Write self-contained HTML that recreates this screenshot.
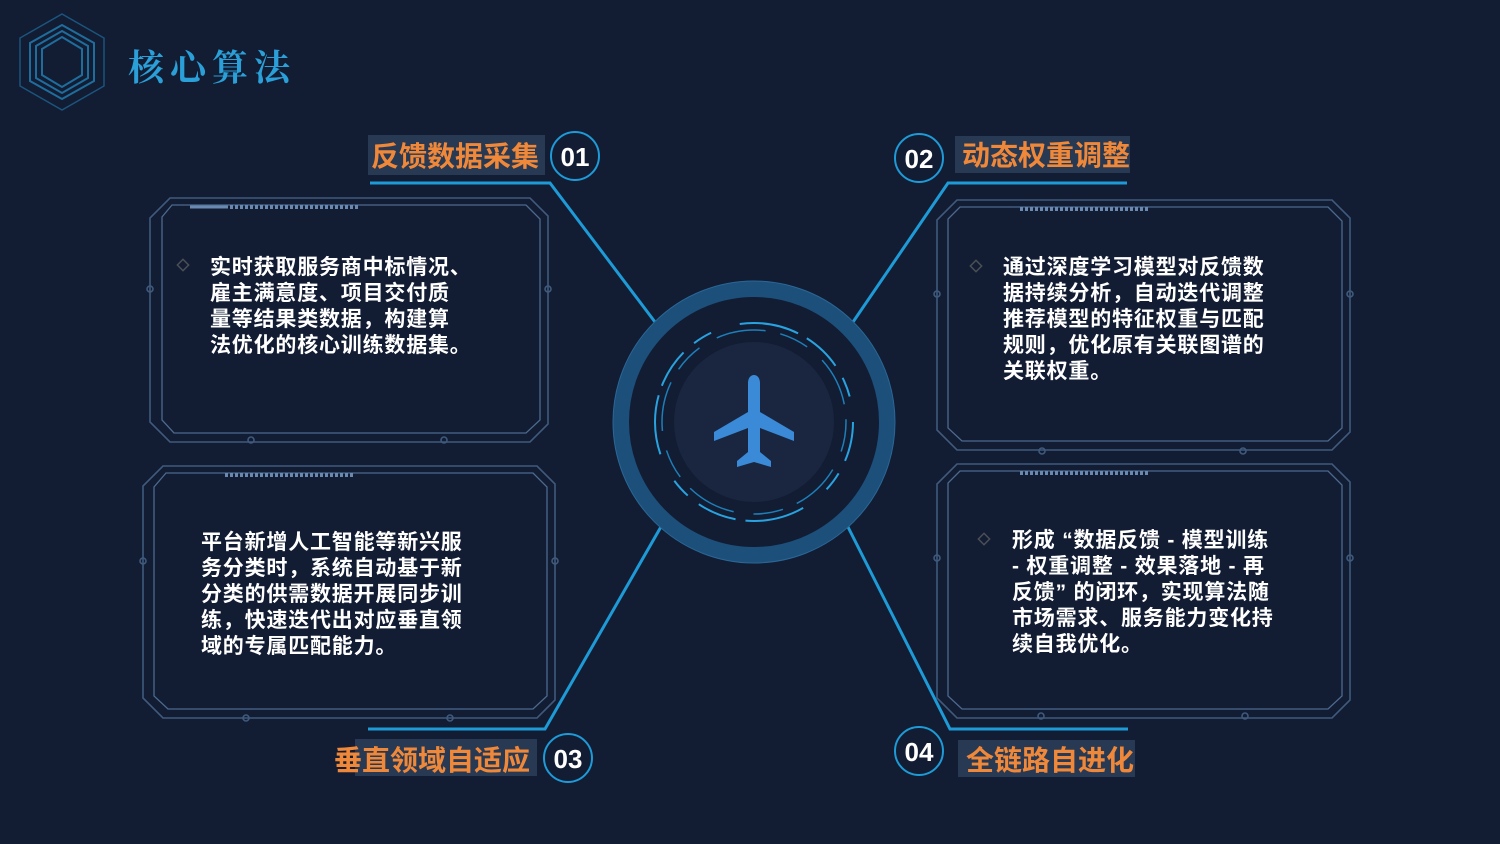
<!DOCTYPE html>
<html><head><meta charset="utf-8"><style>
html,body{margin:0;padding:0;background:#121c33;}
svg{display:block}
text{font-family:"Liberation Sans","Noto Sans CJK SC",sans-serif;font-weight:bold}
.b{fill:#fff;font-size:21px;letter-spacing:0.8px}
.l{fill:#f0883a;font-size:28px}
.n{fill:#fff;font-size:26px}
.fo{fill:none;stroke:#3f5a7c;stroke-width:1.6}
.fi{fill:none;stroke:#4c6a8e;stroke-width:1.3}
.c{stroke:#1e9ad6;stroke-width:3;fill:none}
</style></head><body>
<svg width="1500" height="844" viewBox="0 0 1500 844" xmlns="http://www.w3.org/2000/svg">
<rect width="1500" height="844" fill="#121c33"/>
<g fill="none" stroke="#1f6d9c">
<polygon points="62,14 104,38 104,86 62,110 20,86 20,38" stroke-width="1.5" opacity="0.7"/>
<polygon points="62,25 94,43 94,81 62,99 30,81 30,43" stroke-width="2"/>
<polygon points="62,31 88,46 88,78 62,93 36,78 36,46" stroke-width="2"/>
<polygon points="62,37 82,49 82,75 62,87 42,75 42,49" stroke-width="2"/>
</g>
<text x="128" y="80" font-size="36" fill="#2a9fd8" letter-spacing="6" style="font-family:'Noto Serif CJK SC',serif">核心算法</text>

<path class="c" d="M370,183 H550 L655,322"/>
<path class="c" d="M1127,183 H948 L853,322"/>
<path class="c" d="M368,729 H545 L662,525"/>
<path class="c" d="M1128,729 H950 L848,527"/>

<g>
<path class="fo" d="M170,198 H530 L548,216 V424 L530,442 H170 L150,422 V218 Z"/>
<path class="fi" d="M172,205 H526 L540,219 V420 L526,433 H174 L162,420 V217 Z"/>
<path d="M230,207 H360" stroke="#6a89b0" stroke-width="4" stroke-dasharray="3 2"/>
<path d="M190,207 H228" stroke="#6a89b0" stroke-width="3"/>
<circle cx="150" cy="289" r="3" class="fo"/><circle cx="548" cy="289" r="3" class="fo"/>
<circle cx="251" cy="440" r="3" class="fo"/><circle cx="444" cy="440" r="3" class="fo"/>
<rect x="179" y="261" width="8" height="8" transform="rotate(45 183 265)" fill="none" stroke="#4a4f55" stroke-width="1.5"/>
</g>
<g>
<path class="fo" d="M957,200 H1332 L1350,218 V432 L1332,450 H957 L937,430 V220 Z"/>
<path class="fi" d="M960,207 H1328 L1342,221 V428 L1328,441 H962 L948,428 V219 Z"/>
<path d="M1020,209 H1150" stroke="#6a89b0" stroke-width="4" stroke-dasharray="3 2"/>
<circle cx="937" cy="294" r="3" class="fo"/><circle cx="1350" cy="294" r="3" class="fo"/>
<circle cx="1042" cy="451" r="3" class="fo"/><circle cx="1243" cy="451" r="3" class="fo"/>
<rect x="972" y="262" width="8" height="8" transform="rotate(45 976 266)" fill="none" stroke="#4a4f55" stroke-width="1.5"/>
</g>
<g>
<path class="fo" d="M163,466 H537 L555,484 V700 L537,718 H163 L143,698 V486 Z"/>
<path class="fi" d="M166,473 H533 L547,487 V696 L533,709 H168 L154,696 V487 Z"/>
<path d="M225,475 H355" stroke="#6a89b0" stroke-width="4" stroke-dasharray="3 2"/>
<circle cx="143" cy="561" r="3" class="fo"/><circle cx="555" cy="561" r="3" class="fo"/>
<circle cx="246" cy="718" r="3" class="fo"/><circle cx="450" cy="718" r="3" class="fo"/>
</g>
<g>
<path class="fo" d="M957,464 H1332 L1350,482 V700 L1332,718 H957 L937,698 V484 Z"/>
<path class="fi" d="M960,471 H1328 L1342,485 V696 L1328,709 H962 L948,696 V483 Z"/>
<path d="M1020,473 H1150" stroke="#6a89b0" stroke-width="4" stroke-dasharray="3 2"/>
<circle cx="937" cy="558" r="3" class="fo"/><circle cx="1350" cy="558" r="3" class="fo"/>
<circle cx="1041" cy="716" r="3" class="fo"/><circle cx="1245" cy="716" r="3" class="fo"/>
<rect x="980" y="535" width="8" height="8" transform="rotate(45 984 539)" fill="none" stroke="#4a4f55" stroke-width="1.5"/>
</g>

<circle cx="754" cy="422" r="133" fill="none" stroke="#1c4f7a" stroke-width="16"/>
<circle cx="754" cy="422" r="141" fill="none" stroke="#2a6796" stroke-width="1"/>
<circle cx="754" cy="422" r="80" fill="#1a2640"/>
<circle cx="754" cy="422" r="99" fill="none" stroke="#29a3e0" stroke-width="2" stroke-dasharray="40 14 20 30 60 10"/>
<circle cx="754" cy="422" r="92" fill="none" stroke="#1e7fb8" stroke-width="1.5" stroke-dasharray="30 20 50 15"/>
<path fill="#3a8ad8" d="M754,375 c-4,0 -6,4 -6,8 V412 L714,432 V441 L748,428 V452 L737,461 V467 L754,462 L771,467 V461 L760,452 V428 L794,441 V432 L760,412 V383 c0,-4 -2,-8 -6,-8 Z"/>

<rect x="368" y="135" width="177" height="40" fill="#283954"/>
<text class="l" x="371" y="166">反馈数据采集</text>
<circle cx="575" cy="156" r="24" fill="#121c33" stroke="#1e9ad6" stroke-width="2"/>
<text class="n" x="575" y="166" text-anchor="middle">01</text>

<rect x="955" y="136" width="175" height="37" fill="#283954"/>
<text class="l" x="962" y="165">动态权重调整</text>
<circle cx="919" cy="158" r="24" fill="#121c33" stroke="#1e9ad6" stroke-width="2"/>
<text class="n" x="919" y="168" text-anchor="middle">02</text>

<rect x="355" y="739" width="182" height="37" fill="#283954"/>
<text class="l" x="334" y="770">垂直领域自适应</text>
<circle cx="568" cy="758" r="24" fill="#121c33" stroke="#1e9ad6" stroke-width="2"/>
<text class="n" x="568" y="768" text-anchor="middle">03</text>

<rect x="958" y="740" width="177" height="37" fill="#283954"/>
<text class="l" x="966" y="770">全链路自进化</text>
<circle cx="919" cy="751" r="24" fill="#121c33" stroke="#1e9ad6" stroke-width="2"/>
<text class="n" x="919" y="761" text-anchor="middle">04</text>

<g>
<text class="b" x="210" y="274">实时获取服务商中标情况、</text>
<text class="b" x="210" y="300">雇主满意度、项目交付质</text>
<text class="b" x="210" y="326">量等结果类数据，构建算</text>
<text class="b" x="210" y="352">法优化的核心训练数据集。</text>

<text class="b" x="1003" y="274">通过深度学习模型对反馈数</text>
<text class="b" x="1003" y="300">据持续分析，自动迭代调整</text>
<text class="b" x="1003" y="326">推荐模型的特征权重与匹配</text>
<text class="b" x="1003" y="352">规则，优化原有关联图谱的</text>
<text class="b" x="1003" y="378">关联权重。</text>

<text class="b" x="201" y="549">平台新增人工智能等新兴服</text>
<text class="b" x="201" y="575">务分类时，系统自动基于新</text>
<text class="b" x="201" y="601">分类的供需数据开展同步训</text>
<text class="b" x="201" y="627">练，快速迭代出对应垂直领</text>
<text class="b" x="201" y="653">域的专属匹配能力。</text>

<text class="b" x="1012" y="547">形成 “数据反馈 - 模型训练</text>
<text class="b" x="1012" y="573">- 权重调整 - 效果落地 - 再</text>
<text class="b" x="1012" y="599">反馈” 的闭环，实现算法随</text>
<text class="b" x="1012" y="625">市场需求、服务能力变化持</text>
<text class="b" x="1012" y="651">续自我优化。</text>
</g>
</svg>
</body></html>
